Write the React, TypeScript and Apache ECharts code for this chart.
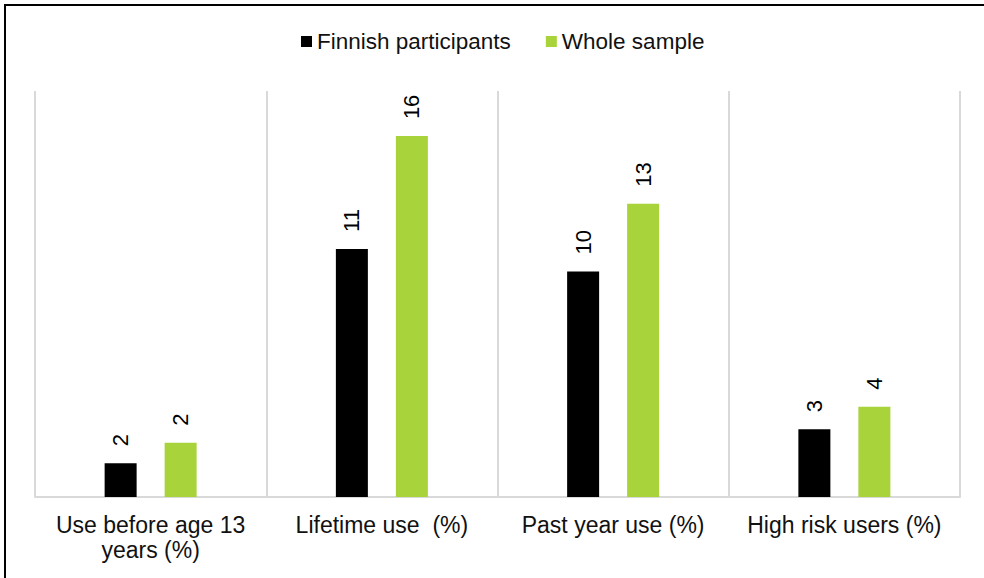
import React, { useEffect, useRef } from "react";
import * as echarts from "echarts";

const categories = [
  "Use before age 13\nyears (%)",
  "Lifetime use  (%)",
  "Past year use (%)",
  "High risk users (%)",
];
const seriesNames = ["Finnish participants", "Whole sample"];
const finnishValues = [1.5, 11, 10, 3];
const wholeSampleValues = [2.4, 16, 13, 4];

export default function App() {
  const ref = useRef<HTMLDivElement>(null);
  useEffect(() => {
    if (!ref.current) return;
    const chart = echarts.init(ref.current, null, { renderer: "svg" });
    const font = "'Liberation Sans', Arial, sans-serif";
    const labelCfg = {
      show: true,
      position: "top",
      rotate: 90,
      align: "left",
      verticalAlign: "middle",
      distance: 17,
      fontSize: 22,
      fontFamily: font,
      color: "#000",
      formatter: (p: any) => String(Math.round(p.value)),
    };
    chart.setOption({
      animation: false,
      backgroundColor: "#fff",
      textStyle: { fontFamily: font },
      graphic: [
        {
          type: "rect",
          shape: { x: 5, y: 5, width: 1000, height: 600 },
          style: { fill: "none", stroke: "#000", lineWidth: 2 },
          z: 100,
        },
      ],
      legend: {
        top: 30,
        left: 301,
        padding: 0,
        itemWidth: 11,
        itemHeight: 11,
        itemGap: 35,
        icon: "rect",
        textStyle: { fontSize: 22.5, color: "#111", fontFamily: font },
        data: seriesNames,
      },
      grid: { left: 35, right: 24, top: 91, bottom: 81 },
      xAxis: {
        type: "category",
        data: categories,
        axisTick: { show: false },
        axisLine: { lineStyle: { color: "#d9d9d9", width: 2 } },
        splitLine: { show: true, interval: 0, lineStyle: { color: "#d9d9d9", width: 2 } },
        axisLabel: {
          interval: 0,
          fontSize: 23,
          lineHeight: 25,
          color: "#111",
          margin: 15,
          fontFamily: font,
        },
      },
      yAxis: {
        type: "value",
        min: 0,
        max: 18,
        show: true,
        axisLabel: { show: false },
        axisLine: { show: false },
        axisTick: { show: false },
        splitLine: { show: false },
      },
      series: [
        {
          name: seriesNames[0],
          type: "bar",
          data: finnishValues,
          barWidth: 32,
          barGap: "87.5%",
          itemStyle: { color: "#000000" },
          label: labelCfg,
        },
        {
          name: seriesNames[1],
          type: "bar",
          data: wholeSampleValues,
          barWidth: 32,
          itemStyle: { color: "#a9d33b" },
          label: labelCfg,
        },
      ],
    });
    return () => chart.dispose();
  }, []);
  return (
    <div
      ref={ref}
      style={{ position: "fixed", left: 0, top: 0, width: 984, height: 578 }}
    />
  );
}
